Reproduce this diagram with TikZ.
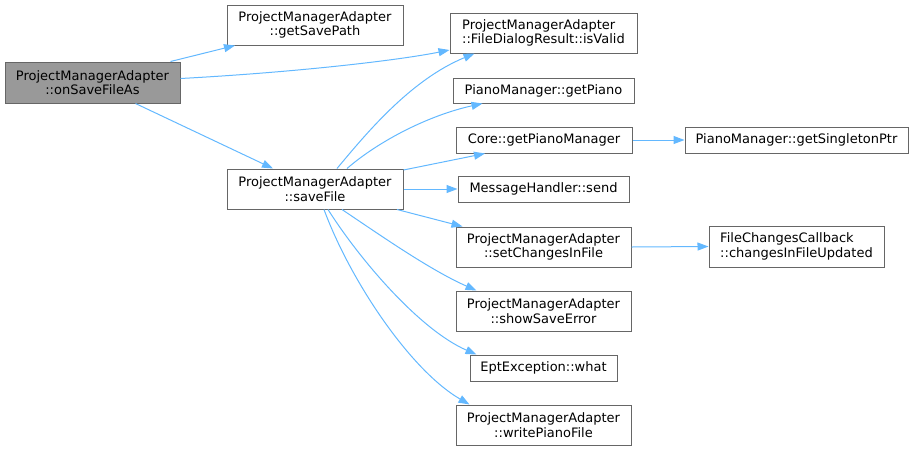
\documentclass[tikz,border=0pt]{standalone}
\usepackage{fontspec}
\setmainfont{DejaVu Sans}
\usepackage{tikz}
\usetikzlibrary{arrows.meta, positioning}
\definecolor{edgeblue}{HTML}{63B8FF}
\definecolor{boxgray}{HTML}{999999}
\definecolor{linegray}{HTML}{666666}
\tikzset{
    block_white/.style={rectangle, draw=linegray, fill=white, line width=1pt, inner sep=0pt, align=center, font=\fontsize{13}{14.5}\selectfont},
    block_gray/.style={block_white, fill=boxgray},
    arrow/.style={-{Triangle[length=11pt,width=8pt]}, edgeblue, line width=1pt}
}
\begin{document}
\begin{tikzpicture}[x=1pt,y=-1pt]
\useasboundingbox (0,0) rectangle (913,451);

\node (saveas) [block_gray,minimum width=175pt,minimum height=41pt] at (92.5,82.5)
    {ProjectManagerAdapter\\::onSaveFileAs};

\node (savepath) [block_white,minimum width=176pt,minimum height=40pt] at (315,25)
    {ProjectManagerAdapter\\::getSavePath};

\node (savefile) [block_white,minimum width=176pt,minimum height=40pt] at (315,189)
    {ProjectManagerAdapter\\::saveFile};

\node (isvalid) [block_white,align=left,minimum width=187pt,minimum height=40pt] at (543.5,33)
    {ProjectManagerAdapter\\::FileDialogResult::isValid};

\node (getpiano) [block_white,minimum width=181pt,minimum height=25pt] at (543.5,90.5)
    {PianoManager::getPiano};

\node (pianomgr) [block_white,minimum width=176pt,minimum height=26pt] at (544,140)
    {Core::getPianoManager};

\node (singleton) [block_white,minimum width=223pt,minimum height=26pt] at (796.5,140)
    {PianoManager::getSingletonPtr};

\node (send) [block_white,minimum width=171pt,minimum height=26pt] at (543.5,189)
    {MessageHandler::send};

\node (setchanges) [block_white,minimum width=175pt,minimum height=40pt] at (543.5,247)
    {ProjectManagerAdapter\\::setChangesInFile};

\node (updated) [block_white,align=left,minimum width=175pt,minimum height=41pt] at (796.5,246.5)
    {FileChangesCallback\\::changesInFileUpdated};

\node (saveerror) [block_white,minimum width=175pt,minimum height=40pt] at (543.5,311)
    {ProjectManagerAdapter\\::showSaveError};

\node (what) [block_white,minimum width=147pt,minimum height=26pt] at (543.5,368)
    {EptException::what};

\node (writefile) [block_white,minimum width=175pt,minimum height=40pt] at (543.5,425)
    {ProjectManagerAdapter\\::writePianoFile};

% Calls from onSaveFileAs
\draw[arrow] ([xshift=78pt]saveas.north) -- ([xshift=-80pt]savepath.south);
\draw[arrow] ([yshift=4pt]saveas.east) .. controls (300,72) and (400,60) .. ([yshift=-17pt]isvalid.west);
\draw[arrow] ([xshift=43pt]saveas.south) -- ([xshift=-42pt]savefile.north);

% Calls from saveFile
\draw[arrow] ([xshift=22pt]savefile.north) .. controls (365,135) and (410,80) .. ([xshift=-69pt]isvalid.south);
\draw[arrow] ([xshift=32pt]savefile.north) .. controls (380,140) and (430,115) .. ([xshift=-61pt]getpiano.south);
\draw[arrow] ([yshift=19pt]savefile.east) -- ([xshift=-59pt]pianomgr.south);
\draw[arrow] (savefile.east) -- (send.west);
\draw[arrow] ([xshift=82pt]savefile.south) -- ([xshift=-81pt]setchanges.north);
\draw[arrow] ([xshift=27pt]savefile.south) .. controls (380,235) and (430,270) .. ([xshift=-67pt]saveerror.north);
\draw[arrow] ([xshift=13pt]savefile.south) .. controls (360,260) and (420,330) .. ([xshift=-67pt]what.north);
\draw[arrow] ([xshift=9pt]savefile.south) .. controls (350,280) and (410,370) .. ([xshift=-74pt]writefile.north);

% Second level
\draw[arrow] (pianomgr.east) -- (singleton.west);
\draw[arrow] (setchanges.east) -- (updated.west);

\end{tikzpicture}
\end{document}
